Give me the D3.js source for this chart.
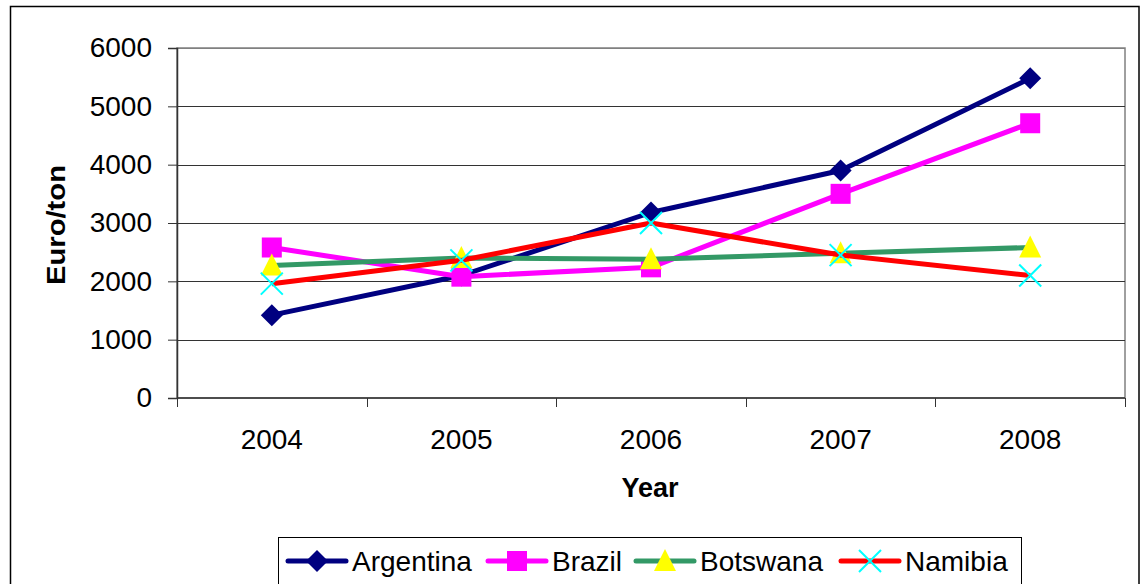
<!DOCTYPE html>
<html>
<head>
<meta charset="utf-8">
<script src="https://cdn.jsdelivr.net/npm/d3@7"></script>
<style>
  html, body { margin: 0; padding: 0; background: #fff; }
  svg { display: block; font-family: "Liberation Sans", Arial, sans-serif; }
</style>
</head>
<body>
<svg id="chart" width="1143" height="584"></svg>
<script>
// Export prices by supplier country, euro per ton
const years = ["2004", "2005", "2006", "2007", "2008"];
const argentina = [1420, 2100, 3180, 3900, 5480];
const brazil    = [2580, 2080, 2240, 3500, 4710];
const botswana  = [2270, 2400, 2380, 2480, 2580];
const namibia   = [1960, 2360, 3000, 2450, 2100];
const yTicks = [0, 1000, 2000, 3000, 4000, 5000, 6000];
const seriesNames = ["Argentina", "Brazil", "Botswana", "Namibia"];

const series = [
  { name: seriesNames[0], values: argentina, line: "#000080", fill: "#000080", shape: "diamond" },
  { name: seriesNames[1], values: brazil,    line: "#ff00ff", fill: "#ff00ff", shape: "square" },
  { name: seriesNames[2], values: botswana,  line: "#339966", fill: "#ffff00", shape: "triangle" },
  { name: seriesNames[3], values: namibia,   line: "#ff0000", fill: "#00ffff", shape: "cross" }
];

const FONT = "Liberation Sans, Arial, sans-serif";
const svg = d3.select("#chart");

// outer chart frame
svg.append("rect").attr("x", 10.5).attr("y", 6.5).attr("width", 1128.5).attr("height", 590)
  .attr("fill", "#fff").attr("stroke", "#000").attr("stroke-width", 1.5);

const plot = { left: 177, right: 1125, top: 48, bottom: 398 };

const x = d3.scaleBand().domain(years).range([plot.left, plot.right]).padding(0);
const y = d3.scaleLinear().domain([0, 6000]).range([plot.bottom, plot.top]);

// plot area frame (grey top/right)
svg.append("rect").attr("x", plot.left).attr("y", plot.top)
  .attr("width", plot.right - plot.left).attr("height", plot.bottom - plot.top)
  .attr("fill", "none").attr("stroke", "#808080").attr("stroke-width", 1.5);

// horizontal gridlines
svg.append("g").selectAll("line").data(yTicks.filter(v => v > 0)).join("line")
  .attr("x1", plot.left).attr("x2", plot.right)
  .attr("y1", d => Math.round(y(d)) + 0.5).attr("y2", d => Math.round(y(d)) + 0.5)
  .attr("stroke", d => d === 6000 ? "#808080" : "#333").attr("stroke-width", 1);

// y axis
const yAxis = svg.append("g").attr("transform", `translate(${plot.left},0)`)
  .attr("font-size", 28).attr("font-family", FONT)
  .call(d3.axisLeft(y).tickValues(yTicks).tickSize(9).tickPadding(16).tickFormat(d3.format("d")));
yAxis.attr("font-size", 28).attr("font-family", FONT);
yAxis.select(".domain").attr("stroke", "#333").attr("stroke-width", 1.5);
yAxis.selectAll(".tick line").attr("stroke", "#333");
yAxis.selectAll("text").attr("fill", "#000");

// x axis with ticks at category boundaries
const xAxisG = svg.append("g").attr("transform", `translate(0,${plot.bottom})`);
xAxisG.append("line").attr("x1", plot.left).attr("x2", plot.right).attr("y1", 0).attr("y2", 0)
  .attr("stroke", "#333").attr("stroke-width", 1.5);
const boundaries = years.map(d => x(d)).concat([x(years[years.length - 1]) + x.bandwidth()]);
xAxisG.selectAll("line.tk").data(boundaries).join("line").attr("class", "tk")
  .attr("x1", d => Math.round(d) + 0.5).attr("x2", d => Math.round(d) + 0.5)
  .attr("y1", 0).attr("y2", 9).attr("stroke", "#333");
xAxisG.selectAll("text").data(years).join("text")
  .attr("x", d => x(d) + x.bandwidth() / 2).attr("y", 51)
  .attr("text-anchor", "middle").attr("font-size", 28).text(d => d);

// axis titles
svg.append("text").attr("x", 650).attr("y", 497).attr("text-anchor", "middle")
  .attr("font-size", 27).attr("font-weight", "bold").text("Year");
svg.append("text").attr("transform", "translate(65,225) rotate(-90)")
  .attr("text-anchor", "middle").attr("font-size", 25).attr("font-weight", "bold")
  .attr("textLength", 120).attr("lengthAdjust", "spacingAndGlyphs").text("Euro/ton");

// marker drawing
function marker(g, shape, fill, cx, cy) {
  if (shape === "diamond") {
    g.append("path").attr("d", `M${cx},${cy - 11}L${cx + 11},${cy}L${cx},${cy + 11}L${cx - 11},${cy}Z`)
      .attr("fill", fill);
  } else if (shape === "square") {
    g.append("rect").attr("x", cx - 10).attr("y", cy - 10).attr("width", 20).attr("height", 20)
      .attr("fill", fill);
  } else if (shape === "triangle") {
    g.append("path").attr("d", `M${cx},${cy - 12}L${cx + 11},${cy + 10}L${cx - 11},${cy + 10}Z`)
      .attr("fill", fill);
  } else if (shape === "cross") {
    g.append("path").attr("d", `M${cx - 11},${cy - 11}L${cx + 11},${cy + 11}M${cx + 11},${cy - 11}L${cx - 11},${cy + 11}`)
      .attr("stroke", fill).attr("stroke-width", 2).attr("fill", "none");
  }
}

const line = d3.line()
  .x((d, i) => x(years[i]) + x.bandwidth() / 2)
  .y(d => y(d));

series.forEach(s => {
  const g = svg.append("g");
  g.append("path").attr("d", line(s.values)).attr("fill", "none")
    .attr("stroke", s.line).attr("stroke-width", 5).attr("stroke-linejoin", "round");
  s.values.forEach((v, i) => marker(g, s.shape, s.fill, x(years[i]) + x.bandwidth() / 2, y(v)));
});

// legend
const legend = svg.append("g");
legend.append("rect").attr("x", 278.5).attr("y", 537.5).attr("width", 743).attr("height", 60)
  .attr("fill", "#fff").attr("stroke", "#000").attr("stroke-width", 1);
const legendX = [288, 488, 636, 841];
series.forEach((s, i) => {
  const lx = legendX[i], ly = 561;
  const g = legend.append("g");
  g.append("line").attr("x1", lx).attr("x2", lx + 58).attr("y1", ly).attr("y2", ly)
    .attr("stroke", s.line).attr("stroke-width", 5).attr("stroke-linecap", "round");
  marker(g, s.shape, s.fill, lx + 29, ly);
  g.append("text").attr("x", lx + 64).attr("y", ly + 10).attr("font-size", 28).text(s.name);
});
</script>
</body>
</html>
